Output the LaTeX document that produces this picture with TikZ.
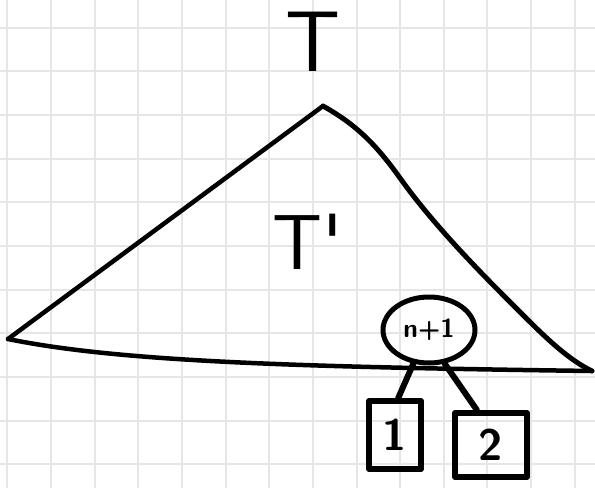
\documentclass[tikz,border=0pt]{standalone}
\usepackage{tikz}
\usetikzlibrary{shapes.geometric}
\definecolor{paperline}{HTML}{E6E6E6}
\tikzset{
  gridline/.style={draw=paperline, line width=2pt},
  ink/.style={line width=4.5pt, line cap=round, line join=round},
  bubble/.style={ellipse, draw, line width=5pt, minimum width=92pt, minimum height=66pt, inner sep=0pt},
  leafbox/.style={rectangle, draw, line width=6pt, line join=round, inner sep=0pt}
}

\begin{document}
\begin{tikzpicture}[x=1pt,y=-1pt]
    \useasboundingbox (0,0) rectangle (595,488);
    \fill[white] (0,0) rectangle (595,488);
    % squared paper
    \foreach \k in {0,...,13} \draw[gridline] (7.3+43.65*\k,0) -- (7.3+43.65*\k,488);
    \foreach \k in {0,...,10} \draw[gridline] (0,27.7+43.65*\k) -- (595,27.7+43.65*\k);
    % the big tree
    \coordinate (apex) at (323,106);
    \coordinate (leftend) at (8,339);
    \coordinate (rightend) at (592,371);
    \draw[ink] (leftend) -- (apex);
    \draw[ink, line width=5pt] (apex) .. controls (355,124) and (375,143) .. (400,178)
        .. controls (430,220) and (470,262) .. (510,302)
        .. controls (540,332) and (565,358) .. (rightend);
    \draw[ink] (leftend) .. controls (120,362) and (300,367) .. (rightend);
    \draw (313,42) node (tname) {\sffamily\fontsize{86}{86}\selectfont T};
    \draw (308,242) node (subname) {\sffamily\fontsize{78}{78}\selectfont T\textquotesingle};
    % new node and its two leaves
    \draw (429,330) node[bubble] (nplus) {\sffamily\bfseries\fontsize{26}{26}\selectfont n+1};
    \draw (395,435) node[leafbox, minimum width=52pt, minimum height=68pt] (one) {\sffamily\bfseries\fontsize{44}{44}\selectfont 1};
    \draw (491,445) node[leafbox, minimum width=72pt, minimum height=64pt] (two) {\sffamily\bfseries\fontsize{44}{44}\selectfont 2};
    \draw[ink, line width=6pt] (nplus.245) -- (one.85);
    \draw[ink, line width=6pt] (nplus.295) -- (two.112);
\end{tikzpicture}
\end{document}
